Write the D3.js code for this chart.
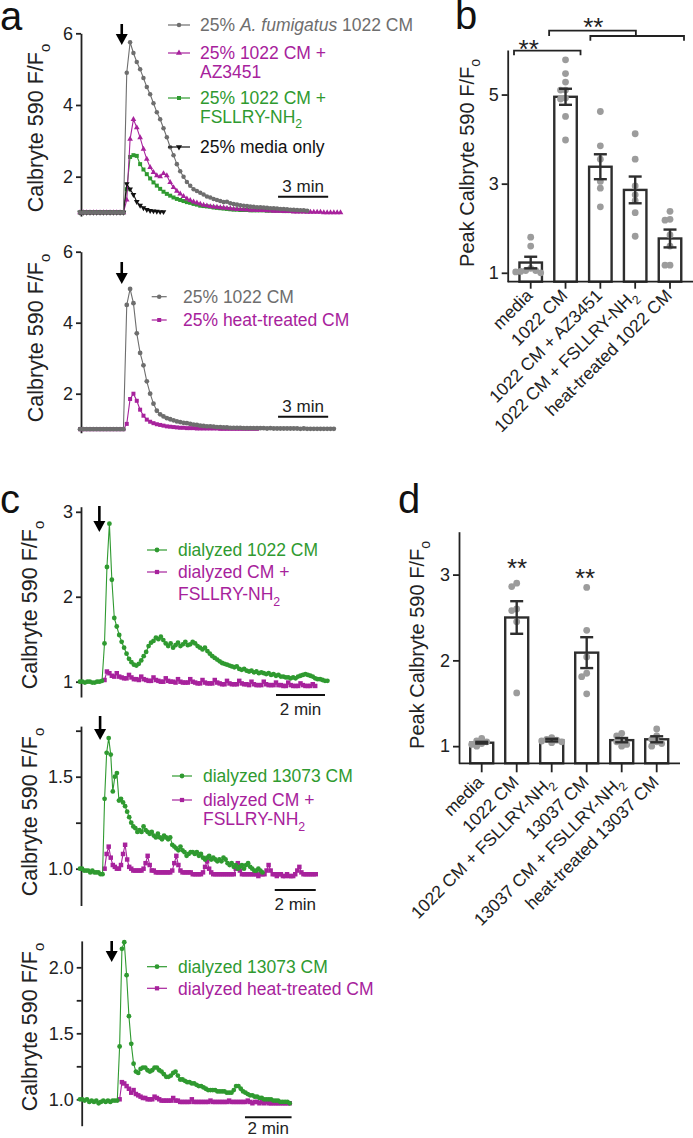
<!DOCTYPE html>
<html>
<head>
<meta charset="utf-8">
<script src="https://cdn.jsdelivr.net/npm/d3@7"></script>
<style>
html,body{margin:0;padding:0;background:#fff;}
svg{display:block;}
text{font-family:"Liberation Sans",Arial,Helvetica,sans-serif;}
</style>
</head>
<body>
<svg id="fig" width="693" height="1138" viewBox="0 0 693 1138"></svg>
<script>
// ================= DATA =================
// Panel a: Calbryte 590 F/Fo, one sample every 0.2 min, starting at t = 0 min
const aSampleMin = 0.2;
const aTopFumigatus1022 = [1,1,1,1,1,1,1,1,1,1,1,1,1,1,
 4.9,5.75,5.45,5.2,5.0,4.75,4.5,4.3,4.05,3.8,
 3.6,3.35,3.1,2.82,2.6,2.35,2.15,2.0,1.85,1.75,
 1.65,1.6,1.55,1.5,1.45,1.42,1.38,1.35,1.32,1.29,
 1.3,1.26,1.24,1.22,1.2,1.19,1.18,1.17,1.16,1.15,
 1.15,1.14,1.13,1.12,1.12,1.11,1.1,1.1,1.09,1.08,
 1.08,1.07,1.06,1.06,1.05];
const aTopAZ3451 = [1,1,1,1,1,1,1,1,1,1,1,1,1,1,
 1.35,3.05,3.6,3.37,3.09,2.77,2.49,2.26,2.12,2.03,
 2.0,2.09,2.03,1.84,1.7,1.6,1.52,1.45,1.38,1.34,
 1.3,1.27,1.24,1.21,1.19,1.17,1.16,1.15,1.14,1.13,
 1.12,1.11,1.1,1.09,1.09,1.08,1.08,1.07,1.07,1.06,
 1.06,1.06,1.05,1.05,1.04,1.04,1.04,1.03,1.03,1.03,
 1.02,1.02,1.02,1.02,1.01,1.01,1.01,1.01,1.01,1.0,
 1.0,1.0,1.0,1.0,1.0];
const aTopFSLLRY = [1,1,1,1,1,1,1,1,1,1,1,1,1,1,
 1.65,2.55,2.6,2.58,2.35,2.2,2.07,1.95,1.84,1.75,
 1.66,1.58,1.52,1.47,1.42,1.38,1.35,1.32,1.29,1.27,
 1.24,1.22,1.19,1.18,1.17,1.16,1.14,1.13,1.12,1.11,
 1.1,1.09,1.08,1.08,1.07,1.07,1.07,1.06,1.06,1.06,
 1.06,1.06,1.05,1.05,1.05,1.05,1.05,1.04,1.04,1.04,
 1.04,1.04,1.04,1.04,1.04];
const aTopMediaOnly = [1,1,1,1,1,1,1,1,1,1,1,1,1,1,
 1.8,1.65,1.5,1.3,1.2,1.13,1.08,1.05,1.04,1.03,
 1.02,1.02];
const aBot1022CM = [1,1,1,1,1,1,1,1,1,1,1,1,1,1,
 4.5,4.95,4.55,3.7,3.15,2.8,2.35,2.0,1.72,1.52,
 1.42,1.36,1.31,1.28,1.25,1.22,1.2,1.18,1.17,1.15,
 1.13,1.12,1.1,1.09,1.08,1.08,1.07,1.06,1.06,1.05,
 1.05,1.04,1.04,1.04,1.04,1.03,1.03,1.03,1.03,1.03,
 1.03,1.03,1.02,1.03,1.02,1.02,1.02,1.02,1.02,1.02,
 1.02,1.02,1.01,1.02,1.01,1.01,1.01,1.01,1.01,1.01,
 1.01,1.01,1.01];
const aBotHeatTreated = [1,1,1,1,1,1,1,1,1,1,1,1,1,1,
 1.15,1.85,2.0,1.8,1.55,1.38,1.27,1.21,1.17,1.14,
 1.12,1.1,1.08,1.07,1.06,1.05,1.04,1.04,1.03,1.03,
 1.03,1.02,1.02,1.02,1.02,1.02,1.02,1.02,1.01,1.01,
 1.01,1.01,1.01,1.01,1.01,1.01,1.01,1.01,1.01,1.01];

// Panel c: one sample every 0.1 min; start times (min) given separately
const cSampleMin = 0.1;
const cTopDialyzed1022Start = 0;
const cTopDialyzed1022 = [1.0,1.0,0.99,1.0,1.0,0.99,0.99,1.0,1.0,1.01,
 1.45,2.35,2.86,2.2,1.75,1.65,1.55,1.47,1.4,1.33,
 1.27,1.23,1.2,1.19,1.21,1.25,1.3,1.35,1.42,1.46,
 1.48,1.52,1.5,1.53,1.49,1.45,1.42,1.45,1.4,1.43,
 1.46,1.42,1.44,1.47,1.43,1.44,1.47,1.45,1.42,1.4,
 1.38,1.4,1.36,1.33,1.3,1.28,1.26,1.24,1.22,1.21,
 1.2,1.19,1.18,1.17,1.18,1.15,1.14,1.15,1.13,1.12,
 1.13,1.11,1.12,1.1,1.11,1.1,1.09,1.1,1.08,1.09,
 1.07,1.08,1.06,1.06,1.05,1.05,1.04,1.05,1.04,1.06,
 1.07,1.08,1.09,1.08,1.07,1.06,1.04,1.03,1.03,1.02,
 1.01,1.01];
const cTopDialyzedFSLLRYStart = 1.0;
const cTopDialyzedFSLLRY = [1.02,1.12,1.1,1.07,1.06,
 1.1,1.06,1.05,1.04,1.04, 1.08,1.05,1.03,1.03,1.02,
 1.06,1.03,1.02,1.01,1.01, 1.05,1.02,1.01,1.0,1.0,
 1.04,1.01,1.0,1.0,0.99, 1.03,1.0,0.99,0.99,0.99,
 1.03,1.0,0.99,0.98,0.98, 1.02,0.99,0.98,0.98,0.98,
 1.02,0.99,0.98,0.97,0.97, 1.01,0.98,0.97,0.97,0.97,
 1.01,0.98,0.97,0.97,0.96, 1.0,0.97,0.96,0.96,0.96,
 1.0,0.97,0.96,0.96,0.96, 0.99,0.96,0.96,0.95,0.95,
 0.99,0.96,0.95,0.95,0.95, 0.98,0.96,0.95,0.95,0.95,
 0.97,0.95];
const cMidDialyzed13073Start = 0;
const cMidDialyzed13073 = [1.0,1.0,0.99,0.99,0.99,0.98,0.99,0.98,0.98,0.98,
 0.97,0.97,1.38,1.63,1.71,1.62,1.42,1.5,1.52,1.37,
 1.38,1.36,1.34,1.31,1.28,1.25,1.23,1.22,1.2,1.21,
 1.2,1.23,1.21,1.2,1.19,1.2,1.18,1.17,1.19,1.17,
 1.16,1.18,1.17,1.16,1.17,1.13,1.12,1.11,1.1,1.12,
 1.1,1.09,1.07,1.08,1.09,1.09,1.08,1.09,1.07,1.08,
 1.06,1.05,1.06,1.07,1.05,1.06,1.05,1.04,1.05,1.04,
 1.06,1.05,1.03,1.02,1.03,1.01,1.02,1.0,1.01,1.02,
 1.0,1.02,1.03,1.01,1.0,0.99,0.99,1.0,0.99,0.98];
const cMidDialyzedFSLLRYStart = 1.2;
const cMidDialyzedFSLLRY = [1.0,1.08,1.12,1.06,1.02,1.01,1.0,1.0,1.02,1.08,
 1.13,1.05,1.01,1.0,0.99,0.99,0.99,0.99,0.99,1.0,
 1.03,1.07,1.02,0.99,
 0.99,0.98,0.98,0.98,0.98,0.98,0.98,0.98,0.98,0.99,
 1.03,1.07,1.02,0.99,
 0.98,0.98,0.98,0.98,0.98,0.97,0.97,0.97,0.97,0.97,0.98,
 1.01,1.04,1.0,0.98,
 0.97,0.97,0.97,0.97,0.97,0.97,0.97,0.97,0.97,0.97,0.97,
 1.0,1.03,0.99,0.97,
 0.97,0.97,0.97,0.97,0.97,0.97,0.97,0.96,0.97,0.97,0.97,
 0.99,1.02,0.99,0.97,
 0.97,0.96,0.97,0.97,0.96,0.96,0.97,0.96,0.96,0.96,0.97,
 0.99,1.01,0.98,0.97,
 0.97,0.97,0.97,0.97,0.97,0.97];
const cBotDialyzed13073Start = 0;
const cBotDialyzed13073 = [1.0,1.0,0.99,1.0,0.98,0.99,0.98,0.99,0.97,0.98,
 0.99,0.98,0.99,0.98,0.99,0.99,0.99,
 1.4,2.14,2.19,1.94,1.63,1.42,1.27,1.21,1.2,1.23,
 1.24,1.24,1.22,1.21,1.22,1.24,1.24,1.22,1.21,1.19,
 1.17,1.17,1.18,1.2,1.21,1.18,1.15,1.15,1.14,1.13,
 1.13,1.12,1.12,1.11,1.1,1.1,1.09,1.08,1.07,1.07,
 1.07,1.07,1.06,1.06,1.06,1.06,1.05,1.05,1.05,1.07,
 1.1,1.1,1.08,1.06,1.05,1.04,1.03,1.03,1.02,1.02,
 1.01,1.01,1.0,1.0,1.0,1.0,0.99,0.99,0.99,0.98,
 0.98,0.98,0.98,0.97];
const cBotDialyzedHeatStart = 1.7;
const cBotDialyzedHeat = [1.0,1.13,1.12,1.1,1.08,1.05,1.07,1.04,1.03,1.02,
 1.01,1.01,1.0,1.0,1.0,1.02,1.01,1.0,0.99,0.99,
 0.99,0.99,0.99,1.01,0.99,0.99,0.98,0.98,0.98,0.98,
 0.98,1.0,0.98,0.98,0.98,0.98,0.98,0.98,0.98,0.99,
 0.98,0.98,0.98,0.98,0.98,0.98,0.98,0.99,0.98,0.98,
 0.98,0.98,0.98,0.98,0.98,0.99,0.98,0.97,0.98,0.98,
 0.97,0.98,0.97,0.98,0.97,0.97,0.97,0.97,0.97,0.97,
 0.97,0.97,0.97,0.97];

// Panel b: peak F/Fo
const bCategories = ["media","1022 CM","1022 CM + AZ3451","1022 CM + FSLLRY-NH2","heat-treated 1022 CM"];
const bMeans = [1.23, 4.95, 3.38, 2.86, 1.77];
const bSEM = [0.13, 0.18, 0.28, 0.3, 0.2];
const bPoints = [
 [1.8,1.6,1.1,1.05,1.05,1.03,1.0,1.02],
 [5.78,5.47,5.28,5.1,5.1,4.92,4.9,4.51,3.98],
 [4.62,3.85,3.55,3.05,2.9,2.48],
 [4.12,3.55,2.95,2.75,2.62,2.35,1.82],
 [2.38,2.2,2.18,1.85,1.6,1.17,1.17]];

// Panel d: peak F/Fo
const dCategories = ["media","1022 CM","1022 CM + FSLLRY-NH2","13037 CM","13037 CM + FSLLRY-NH2","heat-treated 13037 CM"];
const dMeans = [1.04, 2.5, 1.07, 2.09, 1.07, 1.08];
const dSEM = [0.01, 0.19, 0.015, 0.18, 0.025, 0.035];
const dPoints = [
 [1.09,1.06,1.05,1.03,1.02,1.0],
 [2.9,2.86,2.6,2.58,2.45,1.62],
 [1.1,1.08,1.07,1.06,1.05,1.04],
 [2.85,2.35,2.04,1.85,1.81,1.61],
 [1.15,1.12,1.07,1.05,1.02,1.0],
 [1.2,1.12,1.08,1.05,1.03,1.0]];

// Tick values / labels
const aTicks = [2,4,6];
const aTickLabels = ["2","4","6"];
const cTopTicks = [1,2,3];
const cTopTickLabels = ["1","2","3"];
const cMidTicks = [1,1.25,1.5,1.75];
const cMidTickLabels = ["1.0","","1.5",""];
const cBotTicks = [1,1.25,1.5,1.75,2];
const cBotTickLabels = ["1.0","","1.5","","2.0"];
const bTicks = [1,3,5];
const dTicks = [1,2,3];

// ================= DRAWING =================
const svg = d3.select('#fig');
const C = {gray:'#6e6e6e', mag:'#a7229c', green:'#2f9a30', black:'#111111',
           dot:'#9c9c9c', ink:'#222222', bar:'#2e2e2e'};
const FS = {tick:18, legend:17.5, ylabTrace:21.5, ylabBar:20, scale:17, xlab:17.5, letter:40, star:26};

function rich(sel, parts, fs){
  parts.forEach(p=>{
    const ts = sel.append('tspan').text(p[0]);
    if(p[1]==='i') ts.attr('font-style','italic');
    if(p[1]==='sub') ts.attr('font-size',(fs*0.7).toFixed(1)).attr('dy',(fs*0.3).toFixed(1));
  });
}
function labelParts(s){
  if(s.endsWith('NH2')) return [[s.slice(0,-1),''],['2','sub']];
  return [[s,'']];
}
function sym(kind,size){
  const t = kind==='circle'?d3.symbolCircle: kind==='square'?d3.symbolSquare: d3.symbolTriangle;
  return d3.symbol().type(t).size(size)();
}
function symT(kind,x,y){ return `translate(${x},${y})`+(kind==='tridown'?' rotate(180)':''); }
function styleAxis(ax, fs){
  ax.attr('font-family',null).attr('font-size',null);
  ax.selectAll('path.domain').attr('stroke',C.ink).attr('stroke-width',1.8);
  ax.selectAll('.tick line').attr('stroke',C.ink).attr('stroke-width',1.8);
  ax.selectAll('.tick text').attr('font-size',fs).attr('fill',C.ink);
}
function yLabel(g, x, y, parts, fs){
  const t = g.append('text').attr('transform',`translate(${x},${y}) rotate(-90)`)
    .attr('text-anchor','middle').attr('font-size',fs).attr('fill',C.ink);
  rich(t, parts, fs);
}
function arrow(g, x, y1, y2){
  const hl=11, hw=6;
  g.append('line').attr('x1',x).attr('x2',x).attr('y1',y1).attr('y2',y2-hl+1)
    .attr('stroke','#000').attr('stroke-width',2.6);
  g.append('path').attr('d',`M${x-hw},${y2-hl}L${x+hw},${y2-hl}L${x},${y2}Z`).attr('fill','#000');
}
const ylabParts = [['Calbryte 590 F/F',''],['o','sub']];

function tracePanel(p){
  const g = svg.append('g');
  const x = d3.scaleLinear().domain([0,p.tMax]).range([p.x0, p.x0 + p.tMax*p.pxPerMin]);
  const y = d3.scaleLinear().domain(p.yDomain).range(p.yRange);
  const ax = g.append('g').attr('transform',`translate(${p.axisX},0)`)
    .call(d3.axisLeft(y).tickValues(p.ticks).tickFormat((d,i)=>p.tickLabels[i])
      .tickSize(5).tickSizeOuter(0).tickPadding(3));
  styleAxis(ax, FS.tick);
  p.series.forEach(s=>{
    const pts = s.vals.map((v,i)=>[x(s.t0 + i*s.dt), y(v)]);
    g.append('path').attr('d', d3.line()(pts)).attr('fill','none')
      .attr('stroke',s.color).attr('stroke-width',1.1);
    const m = sym(s.marker, s.size);
    g.append('g').selectAll('path').data(pts).join('path')
      .attr('d', m).attr('transform', d=>symT(s.marker,d[0],d[1])).attr('fill',s.color);
  });
  arrow(g, x(p.arrow.t), p.arrow.y1, p.arrow.y2);
  const sx1 = x(p.scale.t), sx2 = x(p.scale.t + p.scale.len);
  g.append('line').attr('x1',sx1).attr('x2',sx2).attr('y1',p.scale.y).attr('y2',p.scale.y)
    .attr('stroke','#111').attr('stroke-width',2);
  g.append('text').attr('x',(sx1+sx2)/2).attr('y',p.scale.ty).attr('text-anchor','middle')
    .attr('font-size',FS.scale).attr('fill',C.ink).text(p.scale.label);
  const L = p.legend;
  L.entries.forEach(e=>{
    const ly = e.ys[0];
    g.append('line').attr('x1',L.x1).attr('x2',L.x2).attr('y1',ly).attr('y2',ly)
      .attr('stroke',e.color).attr('stroke-width',1.2);
    g.append('path').attr('d',sym(e.marker,e.size)).attr('transform',symT(e.marker,(L.x1+L.x2)/2,ly))
      .attr('fill',e.color);
    e.lines.forEach((parts,k)=>{
      const t = g.append('text').attr('x',L.tx).attr('y',e.ys[k]+6.2)
        .attr('font-size',FS.legend).attr('fill',e.color);
      rich(t, parts, FS.legend);
    });
  });
  yLabel(g, p.ylab.x, p.ylab.y, ylabParts, FS.ylabTrace);
}

function swarm(vals, y, minDist, step){
  const placed=[];
  return vals.map(v=>{
    const py=y(v);
    for(const k of [0,-1,1,-2,2,-3,3]){
      const px=k*step;
      if(placed.every(q=>Math.hypot(q[0]-px,q[1]-py)>=minDist)){ placed.push([px,py]); return [px,py]; }
    }
    placed.push([0,py]); return [0,py];
  });
}

function barPanel(o){
  const g = svg.append('g');
  const x = d3.scalePoint().domain(o.cats).range(o.xRange);
  const y = d3.scaleLinear().domain(o.yDomain).range(o.yRange);
  const base = o.yRange[0];
  g.selectAll('rect.bar').data(o.cats).join('rect').attr('class','bar')
    .attr('x',c=>x(c)-o.barW/2).attr('y',(c,i)=>y(o.means[i]))
    .attr('width',o.barW).attr('height',(c,i)=>base-y(o.means[i]))
    .attr('fill','#fff').attr('stroke',C.bar).attr('stroke-width',2.4);
  o.cats.forEach((c,i)=>{
    const sw = swarm(o.points[i], y, 5, 5);
    g.append('g').selectAll('circle').data(sw).join('circle')
      .attr('cx',d=>x(c)+d[0]).attr('cy',d=>d[1]).attr('r',3.4).attr('fill',C.dot);
  });
  o.cats.forEach((c,i)=>{
    const cx=x(c), hi=y(o.means[i]+o.sem[i]), lo=y(o.means[i]-o.sem[i]), cw=6.5;
    const eg = g.append('g').attr('stroke',C.bar).attr('stroke-width',2.4).attr('fill','none');
    eg.append('line').attr('x1',cx).attr('x2',cx).attr('y1',hi).attr('y2',lo);
    eg.append('line').attr('x1',cx-cw).attr('x2',cx+cw).attr('y1',hi).attr('y2',hi);
    eg.append('line').attr('x1',cx-cw).attr('x2',cx+cw).attr('y1',lo).attr('y2',lo);
  });
  const ax = g.append('g').attr('transform',`translate(${o.axisX},0)`)
    .call(d3.axisLeft(y).tickValues(o.ticks).tickFormat(d3.format('d')).tickSize(6).tickSizeOuter(0).tickPadding(3));
  styleAxis(ax, FS.tick);
  g.append('line').attr('x1',o.axisX).attr('x2',o.xAxisEnd).attr('y1',base).attr('y2',base)
    .attr('stroke',C.ink).attr('stroke-width',1.8);
  g.selectAll('line.xt').data(o.cats).join('line').attr('class','xt')
    .attr('x1',c=>x(c)).attr('x2',c=>x(c)).attr('y1',base).attr('y2',base+o.tickLen)
    .attr('stroke',C.ink).attr('stroke-width',1.8);
  o.cats.forEach(c=>{
    const t = g.append('text').attr('transform',`translate(${x(c)+o.labelDx},${base+o.labelDy}) rotate(-45)`)
      .attr('text-anchor','end').attr('font-size',FS.xlab).attr('fill',C.ink);
    rich(t, labelParts(c), FS.xlab);
  });
  yLabel(g, o.ylab.x, o.ylab.y, [['Peak Calbryte 590 F/F',''],['o','sub']], FS.ylabBar);
  (o.brackets||[]).forEach(b=>{
    const x1 = x(o.cats[b.from])+b.dx1, x2 = x(o.cats[b.to])+b.dx2;
    g.append('path').attr('d',`M${x1},${b.y+b.drop}V${b.y}H${x2}V${b.y+b.drop}`)
      .attr('fill','none').attr('stroke',C.ink).attr('stroke-width',1.8);
  });
  (o.stars||[]).forEach(s=>{
    g.append('text').attr('x',x(o.cats[s.at])+s.dx).attr('y',s.y).attr('text-anchor','middle')
      .attr('font-size',FS.star).attr('fill',C.ink).text('**');
  });
}

// ---- panel a (top)
tracePanel({x0:80, pxPerMin:16.7, tMax:16, axisX:81,
  yDomain:[0.9,6], yRange:[216.1,33.3], ticks:aTicks, tickLabels:aTickLabels,
  series:[
    {vals:aTopFSLLRY, t0:0, dt:aSampleMin, color:C.green, marker:'square', size:16},
    {vals:aTopAZ3451, t0:0, dt:aSampleMin, color:C.mag, marker:'tri', size:14},
    {vals:aTopMediaOnly, t0:0, dt:aSampleMin, color:C.black, marker:'tridown', size:14},
    {vals:aTopFumigatus1022, t0:0, dt:aSampleMin, color:C.gray, marker:'circle', size:16}],
  arrow:{t:2.5, y1:24, y2:45},
  scale:{t:11.86, len:3, y:196.7, ty:191.5, label:'3 min'},
  legend:{x1:168, x2:190, tx:200, entries:[
    {color:C.gray, marker:'circle', size:16, ys:[25], lines:[[['25% ',''],['A. fumigatus','i'],[' 1022 CM','']]]},
    {color:C.mag, marker:'tri', size:16, ys:[53,71.5], lines:[[['25% 1022 CM +','']],[['AZ3451','']]]},
    {color:C.green, marker:'square', size:16, ys:[98,116.5], lines:[[['25% 1022 CM +','']],[['FSLLRY-NH',''],['2','sub']]]},
    {color:C.black, marker:'tridown', size:16, ys:[147], lines:[[['25% media only','']]]}]},
  ylab:{x:43, y:128}});

// ---- panel a (bottom)
tracePanel({x0:80, pxPerMin:16.7, tMax:16, axisX:81,
  yDomain:[0.9,6], yRange:[432.75,251.7], ticks:aTicks, tickLabels:aTickLabels,
  series:[
    {vals:aBotHeatTreated, t0:0, dt:aSampleMin, color:C.mag, marker:'square', size:16},
    {vals:aBot1022CM, t0:0, dt:aSampleMin, color:C.gray, marker:'circle', size:18}],
  arrow:{t:2.5, y1:262, y2:284},
  scale:{t:11.86, len:3, y:416.7, ty:411.5, label:'3 min'},
  legend:{x1:151.7, x2:166.7, tx:183, entries:[
    {color:C.gray, marker:'circle', size:16, ys:[296.7], lines:[[['25% 1022 CM','']]]},
    {color:C.mag, marker:'square', size:16, ys:[320], lines:[[['25% heat-treated CM','']]]}]},
  ylab:{x:43, y:338}});

// ---- panel c (top)
tracePanel({x0:80, pxPerMin:24.5, tMax:10.5, axisX:81,
  yDomain:[0.82,3.06], yRange:[697,506.7], ticks:cTopTicks, tickLabels:cTopTickLabels,
  series:[
    {vals:cTopDialyzedFSLLRY, t0:cTopDialyzedFSLLRYStart, dt:cSampleMin, color:C.mag, marker:'square', size:20},
    {vals:cTopDialyzed1022, t0:cTopDialyzed1022Start, dt:cSampleMin, color:C.green, marker:'circle', size:18}],
  arrow:{t:0.79, y1:506, y2:532},
  scale:{t:8.0, len:2, y:695, ty:715, label:'2 min'},
  legend:{x1:147, x2:167, tx:178, entries:[
    {color:C.green, marker:'circle', size:18, ys:[550], lines:[[['dialyzed 1022 CM','']]]},
    {color:C.mag, marker:'square', size:18, ys:[572,594], lines:[[['dialyzed CM +','']],[['FSLLRY-NH',''],['2','sub']]]}]},
  ylab:{x:37, y:605}});

// ---- panel c (middle)
tracePanel({x0:80, pxPerMin:20.5, tMax:11.7, axisX:81,
  yDomain:[0.8,1.775], yRange:[905.5,726.1], ticks:cMidTicks, tickLabels:cMidTickLabels,
  series:[
    {vals:cMidDialyzedFSLLRY, t0:cMidDialyzedFSLLRYStart, dt:cSampleMin, color:C.mag, marker:'square', size:20},
    {vals:cMidDialyzed13073, t0:cMidDialyzed13073Start, dt:cSampleMin, color:C.green, marker:'circle', size:18}],
  arrow:{t:0.98, y1:716, y2:740},
  scale:{t:9.5, len:2, y:890, ty:910, label:'2 min'},
  legend:{x1:172, x2:192, tx:203, entries:[
    {color:C.green, marker:'circle', size:18, ys:[776], lines:[[['dialyzed 13073 CM','']]]},
    {color:C.mag, marker:'square', size:18, ys:[800,819], lines:[[['dialyzed CM +','']],[['FSLLRY-NH',''],['2','sub']]]}]},
  ylab:{x:37, y:812}});

// ---- panel c (bottom)
tracePanel({x0:80, pxPerMin:23.3, tMax:9.5, axisX:81.7,
  yDomain:[0.8,2.2], yRange:[1125.7,940.9], ticks:cBotTicks, tickLabels:cBotTickLabels,
  series:[
    {vals:cBotDialyzedHeat, t0:cBotDialyzedHeatStart, dt:cSampleMin, color:C.mag, marker:'square', size:20},
    {vals:cBotDialyzed13073, t0:cBotDialyzed13073Start, dt:cSampleMin, color:C.green, marker:'circle', size:18}],
  arrow:{t:1.36, y1:941, y2:962},
  scale:{t:7.08, len:2, y:1117.3, ty:1134, label:'2 min'},
  legend:{x1:147, x2:167, tx:178, entries:[
    {color:C.green, marker:'circle', size:18, ys:[966.7], lines:[[['dialyzed 13073 CM','']]]},
    {color:C.mag, marker:'square', size:18, ys:[988.3], lines:[[['dialyzed heat-treated CM','']]]}]},
  ylab:{x:37, y:1027}});

// ---- panel b
barPanel({cats:bCategories, means:bMeans, sem:bSEM, points:bPoints,
  xRange:[530.7,670], axisX:507.7, xAxisEnd:693, yDomain:[0.8,6.0], yRange:[281.7,50],
  ticks:bTicks, barW:22.5, tickLen:7, labelDx:3, labelDy:15, ylab:{x:474, y:163},
  brackets:[
    {from:0, to:1, dx1:-16.7, dx2:15, y:50.7, drop:4.5},
    {from:1, to:3, dx1:-16.4, dx2:0.7, y:30.7, drop:5.3},
    {from:2, to:4, dx1:-10, dx2:14, y:36, drop:4.7}],
  stars:[{at:0, dx:-2, y:58},{at:2, dx:-7, y:36}]});

// ---- panel d
barPanel({cats:dCategories, means:dMeans, sem:dSEM, points:dPoints,
  xRange:[481.7,656.7], axisX:459, xAxisEnd:680, yDomain:[0.8,3.5], yRange:[763.3,531.7],
  ticks:dTicks, barW:23, tickLen:9, labelDx:3, labelDy:20, ylab:{x:424, y:645},
  stars:[{at:1, dx:0.3, y:577},{at:3, dx:-1.7, y:587}]});

// ---- panel letters
[['a',0,30],['b',455,29],['c',0,513],['d',398,513]].forEach(([s,x,y])=>{
  svg.append('text').attr('x',x).attr('y',y).attr('font-size',FS.letter).attr('fill','#111').text(s);
});
</script>
</body>
</html>
